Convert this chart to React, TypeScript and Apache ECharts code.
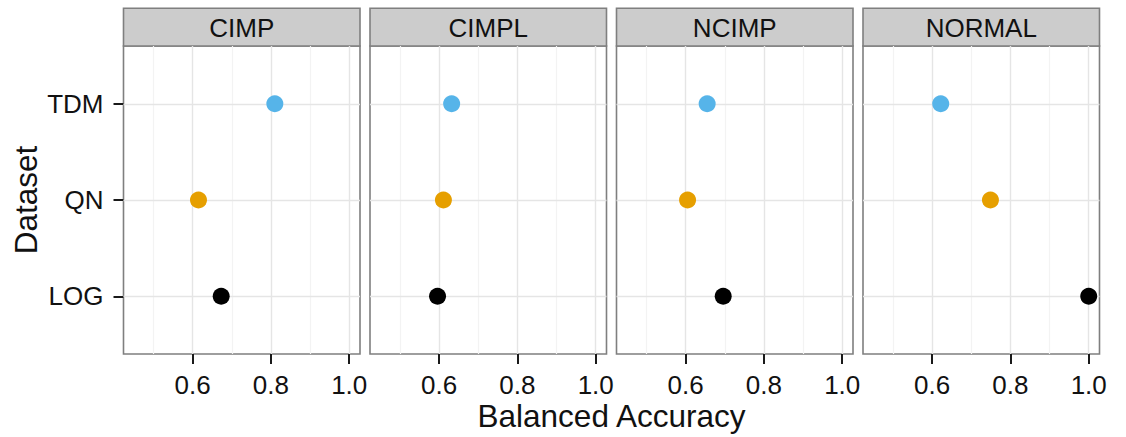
import React, { useEffect, useRef } from "react";
import * as echarts from "echarts";

const panels = ["CIMP", "CIMPL", "NCIMP", "NORMAL"];
const datasets = ["LOG", "QN", "TDM"];
const datasetColors = ["#000000", "#E69F00", "#56B4E9"];
const logValues = [0.673, 0.596, 0.696, 1.0];
const qnValues = [0.615, 0.611, 0.605, 0.749];
const tdmValues = [0.81, 0.632, 0.655, 0.622];
const xTickValues = [0.6, 0.8, 1.0];
const xMinorBreaks = [0.5, 0.7, 0.9];
const yPositions = [1, 2, 3];
const xTitle = "Balanced Accuracy";
const yTitle = "Dataset";

const FONT = "'Liberation Sans', Arial, Helvetica, sans-serif";

export default function App() {
  const ref = useRef<HTMLDivElement>(null);
  useEffect(() => {
    document.body.style.margin = "0";
    if (!ref.current) return;
    const chart = echarts.init(ref.current, undefined, { renderer: "svg" });

    const panelLeft0 = 123.5;
    const panelW = 236.5;
    const gap = 10;
    const top = 46;
    const bottom = 437 - 354;
    const stripTop = 8.3;
    const stripH = top - stripTop;

    const valuesByDataset = [logValues, qnValues, tdmValues];

    const grids: any[] = [];
    const xAxes: any[] = [];
    const yAxes: any[] = [];
    const series: any[] = [];
    const graphics: any[] = [];

    panels.forEach((p, i) => {
      const left = panelLeft0 + i * (panelW + gap);
      grids.push({
        left,
        top,
        width: panelW,
        bottom,
        show: true,
        backgroundColor: "#ffffff",
        borderColor: "#7f7f7f",
        borderWidth: 1.6,
        containLabel: false,
      });
      xAxes.push({
        type: "value",
        gridIndex: i,
        min: 0.4235,
        max: 1.0275,
        axisLine: { show: false },
        splitLine: { show: false },
        axisTick: {
          show: true,
          customValues: xTickValues,
          length: 10,
          lineStyle: { color: "#1a1a1a", width: 2 },
        },
        axisLabel: {
          show: true,
          customValues: xTickValues,
          formatter: (v: number) => v.toFixed(1),
          fontFamily: FONT,
          fontSize: 26,
          color: "#111",
          margin: 18,
        },
      });
      yAxes.push({
        type: "value",
        gridIndex: i,
        min: 0.4,
        max: 3.6,
        axisLine: { show: false },
        splitLine: { show: false },
        axisTick: {
          show: i === 0,
          customValues: yPositions,
          length: 10,
          lineStyle: { color: "#1a1a1a", width: 2 },
        },
        axisLabel: {
          show: i === 0,
          customValues: yPositions,
          formatter: (v: number) => datasets[Math.round(v) - 1] ?? "",
          fontFamily: FONT,
          fontSize: 26,
          color: "#111",
          margin: 20,
        },
      });
      // grid lines
      series.push({
        type: "scatter",
        xAxisIndex: i,
        yAxisIndex: i,
        data: [],
        silent: true,
        z: 1,
        markLine: {
          silent: true,
          z: 1,
          symbol: ["none", "none"],
          label: { show: false },
          animation: false,
          data: [
            ...xMinorBreaks.map((v) => ({
              xAxis: v,
              lineStyle: { color: "#f3f3f3", width: 1.2, type: "solid" },
            })),
            ...xTickValues.map((v) => ({
              xAxis: v,
              lineStyle: { color: "#e5e5e5", width: 1.4, type: "solid" },
            })),
            ...yPositions.map((v) => ({
              yAxis: v,
              lineStyle: { color: "#e5e5e5", width: 1.4, type: "solid" },
            })),
          ],
        },
      });
      series.push({
        type: "scatter",
        name: p,
        xAxisIndex: i,
        yAxisIndex: i,
        symbolSize: 17,
        z: 5,
        data: datasets.map((d, k) => ({
          value: [valuesByDataset[k][i], k + 1],
          itemStyle: { color: datasetColors[k], opacity: 1 },
        })),
      });
      graphics.push({
        type: "rect",
        shape: { x: left, y: stripTop, width: panelW, height: stripH },
        style: { fill: "#cccccc", stroke: "#7f7f7f", lineWidth: 1.6 },
      });
      graphics.push({
        type: "text",
        x: left + panelW / 2,
        y: stripTop + stripH / 2 + 0.5,
        style: {
          text: p,
          fontFamily: FONT,
          fontSize: 26,
          fill: "#111",
          textAlign: "center",
          textVerticalAlign: "middle",
        },
      });
    });

    const totalRight = panelLeft0 + 4 * panelW + 3 * gap;
    graphics.push({
      type: "text",
      x: (panelLeft0 + totalRight) / 2,
      y: 416,
      style: {
        text: xTitle,
        fontFamily: FONT,
        fontSize: 31.5,
        fill: "#111",
        textAlign: "center",
        textVerticalAlign: "middle",
      },
    });
    graphics.push({
      type: "text",
      x: 26,
      y: 200,
      rotation: Math.PI / 2,
      style: {
        text: yTitle,
        fontFamily: FONT,
        fontSize: 31.5,
        fill: "#111",
        textAlign: "center",
        textVerticalAlign: "middle",
      },
    });

    chart.setOption({
      animation: false,
      backgroundColor: "#ffffff",
      grid: grids,
      xAxis: xAxes,
      yAxis: yAxes,
      series,
      graphic: graphics,
    });
    return () => chart.dispose();
  }, []);
  return <div ref={ref} style={{ width: 1126, height: 437 }} />;
}
